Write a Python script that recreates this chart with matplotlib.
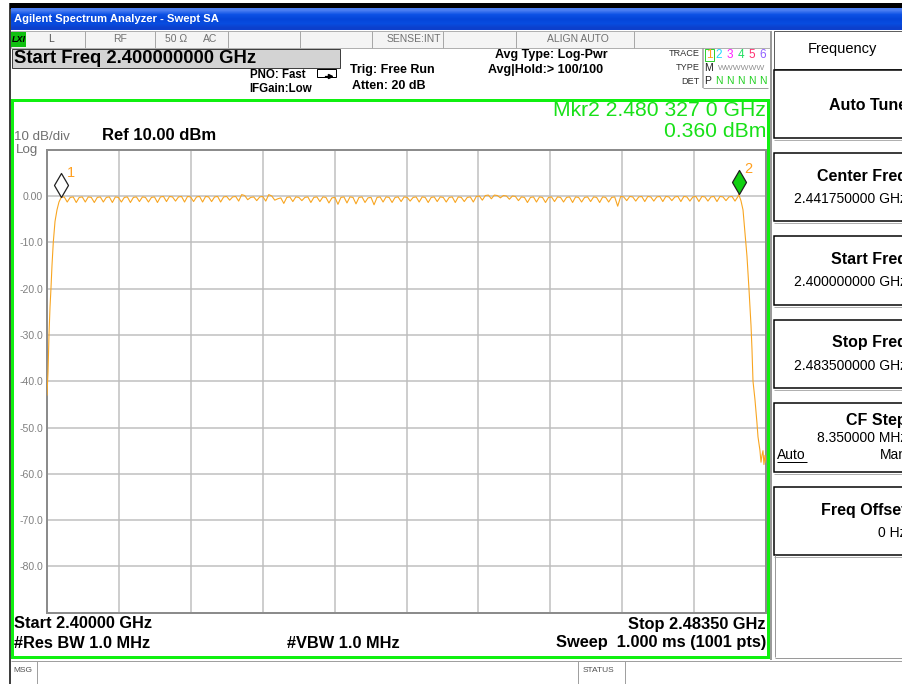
import numpy as np
import matplotlib
matplotlib.use("Agg")
import matplotlib.pyplot as plt
from matplotlib.patches import Rectangle
from matplotlib.path import Path

plt.rcParams['font.family'] = ['Liberation Sans', 'DejaVu Sans']

# ---------------- data ----------------
start_ghz = 2.400
stop_ghz = 2.4835
ref_dbm = 10.0
db_per_div = 10.0

left_edge_freq = [2.40000, 2.40012, 2.40023, 2.40035, 2.40046, 2.40058,
                  2.40073, 2.40093, 2.40116, 2.40139]
left_edge_level = [-43.0, -38.0, -30.0, -24.0, -20.0, -15.0,
                   -10.0, -5.5, -3.0, -1.3]

flat_start = 2.40165
flat_stop = 2.48025
flat_level = [
    -0.3, -0.2, -1.3, -0.3, -0.2, -1.4, -0.3, -0.2, -1.3, -0.2, -0.3, -1.4, -0.3, -0.2, -1.3,
    -0.3, -0.2, -1.4, -0.2, -0.3, -1.3, -0.3, -0.2, -1.4, -0.3, -0.2, -1.2, -0.2, -0.3, -1.3,
    -0.3, -0.2, -1.4, -0.2, -0.1, -1.2, -0.1, -0.2, -1.1, -0.2, -0.1, -1.3, -0.1, -0.2, -1.2,
    -0.2, -0.1, -1.3, -0.1, -0.2, -1.2, -0.2, -0.1, -1.3, -0.2, -0.1, -0.9, -0.2, -0.1, -1.1,
    0.3, 0.1, -0.8, -0.3, -0.2, -1.0, -0.2, -0.1, -1.1, 0.3, 0.0, -0.9, -0.6, -0.4, -1.6,
    -0.3, -0.2, -1.2, -0.2, -0.3, -1.0, -0.3, -0.2, -1.4, -0.3, -0.2, -1.2, -0.2, -0.3, -1.5,
    -0.4, -0.3, -1.8, -0.3, -0.2, -1.5, -0.2, -0.3, -1.7, -0.3, -0.2, -1.4, -0.4, -0.3, -1.9,
    -0.3, -0.2, -1.3, -0.2, -0.3, -1.4, -0.3, -0.2, -1.2, -0.2, -0.3, -1.1, -0.3, -0.2, -1.3,
    -0.2, -0.3, -1.4, -0.3, -0.2, -1.2, -0.2, -0.3, -1.3, -0.3, -0.2, -1.4, -0.2, -0.3, -1.2,
    -0.3, -0.2, -1.3, -0.1, 0.0, -0.9, 0.1, 0.2, -0.6, 0.2, 0.1, -0.4, 0.1, 0.0, -0.7,
    0.0, -0.1, -1.0, -0.2, -0.3, -1.4, -0.3, -0.2, -1.3, -0.2, -0.3, -1.4, -0.3, -0.2, -1.2,
    -0.2, -0.3, -1.3, -0.3, -0.2, -1.4, -0.2, -0.3, -1.3, -0.3, -0.2, -1.2, -0.2, -0.3, -1.4,
    -0.2, -0.3, -1.3, -0.3, -0.2, -2.2, -0.1, -0.2, -1.0, -0.1, -0.2, -1.1, -0.2, -0.1, -1.2,
    -0.1, -0.2, -1.1, -0.2, -0.1, -1.2, -0.1, -0.2, -1.0, -0.2, -0.1, -1.2, -0.1, -0.2, -1.1,
    -0.2, -0.1, -1.2, -0.1, -0.2, -1.1, -0.2, -0.1, -1.2, -0.1, -0.2, -1.0, -0.2, -0.1, -1.1,
    -0.1,
]

right_edge_freq = [2.480327, 2.48059, 2.48083, 2.48106, 2.48129, 2.48152,
                   2.48176, 2.48187, 2.48199, 2.48222, 2.48245, 2.48257,
                   2.48280, 2.48292, 2.48303, 2.48315, 2.48326, 2.48338,
                   2.48350]
right_edge_level = [0.36, -1.0, -3.0, -8.0, -13.0, -20.0,
                    -28.0, -33.0, -40.0, -44.0, -49.0, -52.0,
                    -55.0, -57.5, -56.0, -55.0, -58.0, -56.0,
                    -57.5]

marker1 = (2.40165, -0.3)
marker2 = (2.480327, 0.36)

ytick_labels = ["", "0.00", "-10.0", "-20.0", "-30.0", "-40.0",
                "-50.0", "-60.0", "-70.0", "-80.0", ""]

softkeys = [("Auto Tune", None), ("Center Freq", "2.441750000 GHz"),
            ("Start Freq", "2.400000000 GHz"), ("Stop Freq", "2.483500000 GHz"),
            ("CF Step", "8.350000 MHz"), ("Freq Offset", "0 Hz")]

# ---------------- figure ----------------
W, H = 903, 684
fig = plt.figure(figsize=(W / 100, H / 100), dpi=100)
bg = fig.add_axes([0, 0, 1, 1])
bg.set_xlim(0, W)
bg.set_ylim(H, 0)
bg.axis('off')

PX = 0.72  # points per pixel


def rect(x0, y0, x1, y1, fc='none', ec='none', lw=0.0, z=1):
    bg.add_patch(Rectangle((x0, y0), x1 - x0, y1 - y0, facecolor=fc,
                           edgecolor=ec, linewidth=lw * PX, zorder=z))


def hline(y, x0, x1, c, lw=1, z=2):
    bg.plot([x0, x1], [y, y], color=c, lw=lw * PX, zorder=z, solid_capstyle='butt')


def vline(x, y0, y1, c, lw=1, z=2):
    bg.plot([x, x], [y0, y1], color=c, lw=lw * PX, zorder=z, solid_capstyle='butt')


def txt(x, y, s, size=9, color='black', ha='left', weight='normal', z=5, **kw):
    bg.text(x, y, s, fontsize=size, color=color, ha=ha, va='center',
            fontweight=weight, zorder=z, **kw)


# outer border
rect(10, 3, W, 8.5, fc='black', z=1)
vline(10.5, 3, H, 'black', lw=1.5)

# title bar gradient
grad = np.array([[0.30, 0.50, 0.95], [0.05, 0.32, 0.90], [0.02, 0.27, 0.85],
                 [0.03, 0.30, 0.88], [0.05, 0.25, 0.80]])
bg.imshow(grad.reshape(5, 1, 3), extent=(11, W, 30.5, 8.5), aspect='auto',
          interpolation='bilinear', zorder=1)
txt(14, 19.5, "Agilent Spectrum Analyzer - Swept SA", size=8.1, color='white',
    weight='bold')

# status row
rect(11, 31, 770, 47.5, fc='#F4F4F4', ec='#B0B0B0', lw=1, z=1)
rect(11.5, 32, 26, 46.5, fc='#10C010', z=2)
txt(12, 39.5, "LXI", size=6.5, weight='bold', style='italic')
for xs in [85, 155, 228, 300, 372, 443, 516, 634]:
    vline(xs, 31, 47.5, '#A8A8A8', lw=1)
txt(48, 39.5, "L", size=7.5, color='#505050')
txt(120, 39.5, "RF", size=7.5, color='#707070', ha='center')
txt(165, 39.5, "50 \u03a9", size=7.5, color='#707070')
txt(203, 39.5, "AC", size=7.5, color='#707070')
txt(441, 39.5, "SENSE:INT", size=7.5, color='#707070', ha='right')
txt(578, 39.5, "ALIGN AUTO", size=7.5, color='#707070', ha='center')

# start freq box
rect(12, 48.5, 340, 68, fc='#D3D3D3', ec='#404040', lw=1, z=2)
txt(14, 58.5, "Start Freq 2.400000000 GHz", size=13.3, weight='bold')

txt(306, 75, "PNO: Fast", size=8.3, weight='bold', ha='right')
txt(312, 88.5, "IFGain:Low", size=8.3, weight='bold', ha='right')
# loop icon
bg.add_patch(Rectangle((317, 69), 19, 8, facecolor='none', edgecolor='black',
                       linewidth=1 * PX, zorder=3))
bg.plot([325, 331], [75.5, 75.5], color='black', lw=1.2 * PX, zorder=4)
bg.plot([330], [75.5], marker='>', color='black', ms=3, zorder=4)
txt(350, 70.5, "Trig: Free Run", size=9.0, weight='bold')
txt(352, 86, "Atten: 20 dB", size=9.0, weight='bold')
txt(551, 55, "Avg Type: Log-Pwr", size=9.0, weight='bold', ha='center')
txt(546, 70, "Avg|Hold:> 100/100", size=9.0, weight='bold', ha='center')

# trace table
txt(700, 54, "TRACE", size=6.6, color='#303030', ha='right')
txt(700, 68, "TYPE", size=6.6, color='#303030', ha='right')
txt(700, 81.5, "DET", size=6.6, color='#303030', ha='right')
vline(703.5, 48, 88, '#A0A0A0', lw=1.5)
hline(88, 703, 768, '#A0A0A0', lw=1)
rect(705, 48.5, 714, 60.5, fc='white', ec='#30D030', lw=1, z=3)
num_x = [709.5, 719, 730, 741, 752, 763]
num_c = ['#FFA020', '#20D8FF', '#FF20FF', '#20E060', '#FF3070', '#9060FF']
for nx, nc, s in zip(num_x, num_c, "123456"):
    txt(nx, 55, s, size=8.5, color=nc, ha='center')
txt(709, 68, "M", size=7.5, color='#202020', ha='center')
txt(742, 68, "WWWWWW", size=6.0, color='#909090', ha='center')
txt(708, 81.5, "P", size=7.5, color='#202020', ha='center')
for nx in num_x[1:]:
    txt(nx, 81.5, "N", size=7.5, color='#20D020', ha='center')

# green frame around the measurement pane
GREEN = '#10F010'
rect(12.5, 99.5, 768.5, 656.5, fc='none', ec=GREEN, lw=3, z=2)
vline(771.5, 31, 660, '#9A9A9A', lw=2)

txt(766, 110.5, "Mkr2 2.480 327 0 GHz", size=15.2, color='#18E018', ha='right')
txt(766, 131.5, "0.360 dBm", size=15.2, color='#18E018', ha='right')
txt(14, 137.5, "10 dB/div", size=9.6, color='#707070')
txt(16, 149.5, "Log", size=9.6, color='#707070')
txt(102, 136, "Ref 10.00 dBm", size=12.0, weight='bold')

# bottom annotations
txt(14, 624, "Start 2.40000 GHz", size=11.8, weight='bold')
txt(766, 624, "Stop 2.48350 GHz", size=11.8, weight='bold', ha='right')
txt(14, 643, "#Res BW 1.0 MHz", size=11.8, weight='bold')
txt(287, 643, "#VBW 1.0 MHz", size=11.8, weight='bold')
txt(766, 643, "Sweep  1.000 ms (1001 pts)", size=11.8, weight='bold', ha='right')

# message bar
hline(660.5, 11, W, '#A0A0A0', lw=1)
vline(37.5, 661, H, '#A0A0A0', lw=1)
vline(578.5, 661, H, '#A0A0A0', lw=1)
vline(625.5, 661, H, '#A0A0A0', lw=1)
txt(13, 671, "MSG", size=6.0, color='#505050')
txt(583, 671, "STATUS", size=6.0, color='#505050')

# softkey panel
rect(774, 31, W + 5, 68.5, fc='white', ec='#606060', lw=1, z=2)
txt(842, 49.5, "Frequency", size=10.5, ha='center')
key_top = [69.5, 152.5, 236, 319.5, 403, 486.5]
key_h = 68.5
for (label, value), yt in zip(softkeys, key_top):
    rect(774.5, yt, W + 5, yt + key_h, fc='white', ec='black', lw=1.5, z=2)
    hline(yt + key_h + 2, 774, W, '#B0B0B0', lw=1)
    if value is None:
        txt(907, yt + key_h / 2 + 1.5, label, size=11.5, weight='bold', ha='right')
    elif label == "CF Step":
        txt(907, yt + 17, label, size=11.5, weight='bold', ha='right')
        txt(907, yt + 34.5, value, size=10.0, ha='right')
        txt(777, yt + 52, "Auto", size=10.0)
        hline(yt + 59, 777, 807, 'black', lw=1, z=6)
        txt(907, yt + 52, "Man", size=10.0, ha='right')
    else:
        txt(907, yt + 23.5, label, size=11.5, weight='bold', ha='right')
        txt(907, yt + 46.5, value, size=10.0, ha='right')
vline(775.5, 555, 657, '#9A9A9A', lw=1)
hline(657.5, 775, W, '#9A9A9A', lw=1)

# ---------------- spectrum graticule ----------------
L, R, T, B = 47, 766, 149.7, 612.7
ax = fig.add_axes([L / W, 1 - B / H, (R - L) / W, (B - T) / H], zorder=3)
ax.set_facecolor('white')
ax.set_xlim(start_ghz, stop_ghz)
ax.set_ylim(ref_dbm - 10 * db_per_div, ref_dbm)
ax.set_xticks(np.linspace(start_ghz, stop_ghz, 11))
ax.set_xticklabels([])
ax.set_yticks(np.arange(ref_dbm, ref_dbm - 10 * db_per_div - 1, -db_per_div))
ax.set_yticklabels(ytick_labels)
ax.tick_params(axis='both', length=0, pad=3)
ax.tick_params(axis='y', labelsize=7.6, labelcolor='#808080')
ax.grid(True, color='#BEBEBE', lw=1.5 * PX)
for s in ax.spines.values():
    s.set_color('#8C8C8C')
    s.set_linewidth(2 * PX)

flat_freq = np.linspace(flat_start, flat_stop, len(flat_level))
freq = np.concatenate([left_edge_freq, flat_freq, right_edge_freq])
level = np.concatenate([left_edge_level, flat_level, right_edge_level])
ax.plot(freq, level, color='#F8A520', lw=1.1 * PX, zorder=3, clip_on=True)

# diamond markers (tip sits on the trace point)
dverts = [(0, 0), (-7, 12), (0, 24), (7, 12), (0, 0)]
dpath = Path(dverts, [Path.MOVETO, Path.LINETO, Path.LINETO, Path.LINETO, Path.CLOSEPOLY])
ms = 2 * 24 * PX
ax.plot([marker1[0]], [marker1[1]], marker=dpath, ms=ms, mfc='white', mec='#202020',
        mew=0.9, zorder=5, clip_on=False, ls='none')
ax.plot([marker2[0]], [marker2[1]], marker=dpath, ms=ms, mfc='#10D010', mec='#202020',
        mew=0.9, zorder=5, clip_on=False, ls='none')
ax.annotate("1", marker1, xytext=(10 * PX, 24 * PX), textcoords='offset points',
            color='#FFA020', fontsize=10.5, ha='center', va='center')
ax.annotate("2", marker2, xytext=(10 * PX, 25 * PX), textcoords='offset points',
            color='#FFA020', fontsize=10.5, ha='center', va='center')

fig.savefig("out.png", dpi=100)
